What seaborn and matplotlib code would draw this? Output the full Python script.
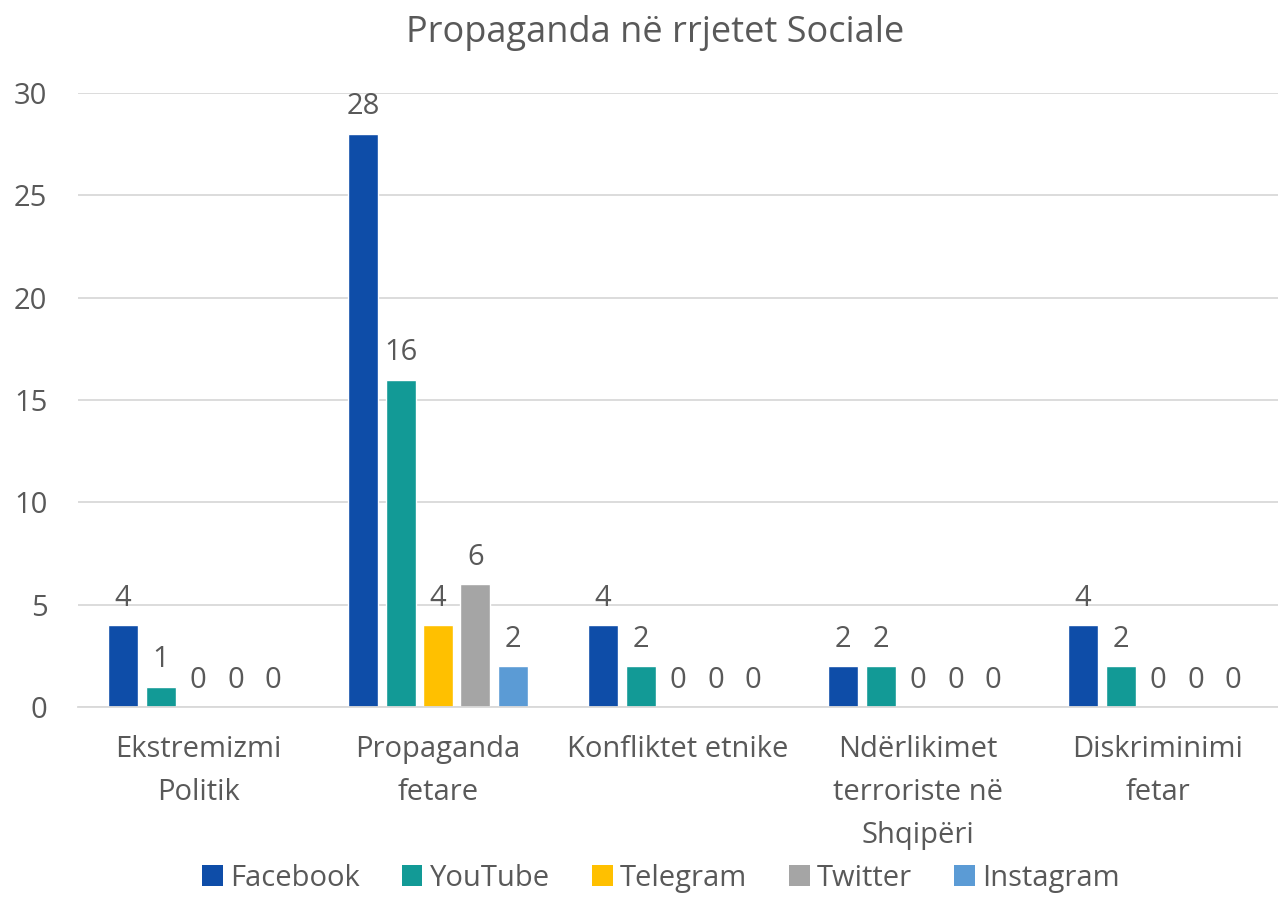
import matplotlib
matplotlib.use("Agg")
import matplotlib.pyplot as plt
import seaborn as sns
import pandas as pd
from matplotlib.patches import Patch

categories = ["Ekstremizmi\nPolitik", "Propaganda\nfetare", "Konfliktet etnike",
              "Ndërlikimet\nterroriste në\nShqipëri", "Diskriminimi\nfetar"]
series = ["Facebook", "YouTube", "Telegram", "Twitter", "Instagram"]
facebook = [4, 28, 4, 2, 4]
youtube = [1, 16, 2, 2, 2]
telegram = [0, 4, 0, 0, 0]
twitter = [0, 6, 0, 0, 0]
instagram = [0, 2, 0, 0, 0]
colors = ["#0E4DA8", "#129A96", "#FFC000", "#A5A5A5", "#5B9BD5"]

values = [facebook, youtube, telegram, twitter, instagram]
rows = []
for s, vals in zip(series, values):
    for c, v in zip(categories, vals):
        rows.append({"Kategoria": c, "Rrjeti": s, "Vlera": v})
df = pd.DataFrame(rows)

sns.set_style("white")
plt.rcParams['font.family'] = ['Open Sans', 'DejaVu Sans']
text_color = "#595959"
fs = 21

fig = plt.figure(figsize=(12.78, 9.21), dpi=100)
ax = fig.add_axes([78/1278, 1-707/921, 1200/1278, (707-93)/921])

sns.barplot(data=df, x="Kategoria", y="Vlera", hue="Rrjeti", order=categories,
            hue_order=series, palette=colors, width=0.78, gap=0.2,
            saturation=1, ax=ax, legend=False)

for cont in ax.containers:
    ax.bar_label(cont, fmt="%g", padding=9, fontsize=fs, color=text_color)

ax.set_ylim(0, 30)
ax.set_xlim(-0.5, 4.5)
ax.set_yticks([0, 5, 10, 15, 20, 25, 30])
ax.yaxis.grid(True, color="#D9D9D9", linewidth=1.3)
ax.set_axisbelow(True)
for sp in ["top", "right", "left"]:
    ax.spines[sp].set_visible(False)
ax.spines["bottom"].set_color("#D9D9D9")
ax.spines["bottom"].set_linewidth(1.3)
ax.tick_params(axis="both", length=0, labelsize=fs, colors=text_color)
ax.tick_params(axis="x", pad=20)
ax.tick_params(axis="y", pad=22)
ax.set_xticks(range(len(categories)))
ax.set_xticklabels(categories, linespacing=1.65, fontsize=fs, color=text_color)
ax.set_xlabel("")
ax.set_ylabel("")

fig.text(655/1278, 1-33/921, "Propaganda në rrjetet Sociale", ha="center", va="center",
         fontsize=26, color=text_color)

handles = [Patch(facecolor=c, edgecolor="none") for c in colors]
fig.legend(handles, series, loc="center", bbox_to_anchor=(661/1278, 1-878/921), ncol=5,
           frameon=False, fontsize=fs, labelcolor=text_color, handlelength=0.7,
           handleheight=0.7, handletextpad=0.25, columnspacing=1.45)

fig.savefig("out.png", dpi=100)
